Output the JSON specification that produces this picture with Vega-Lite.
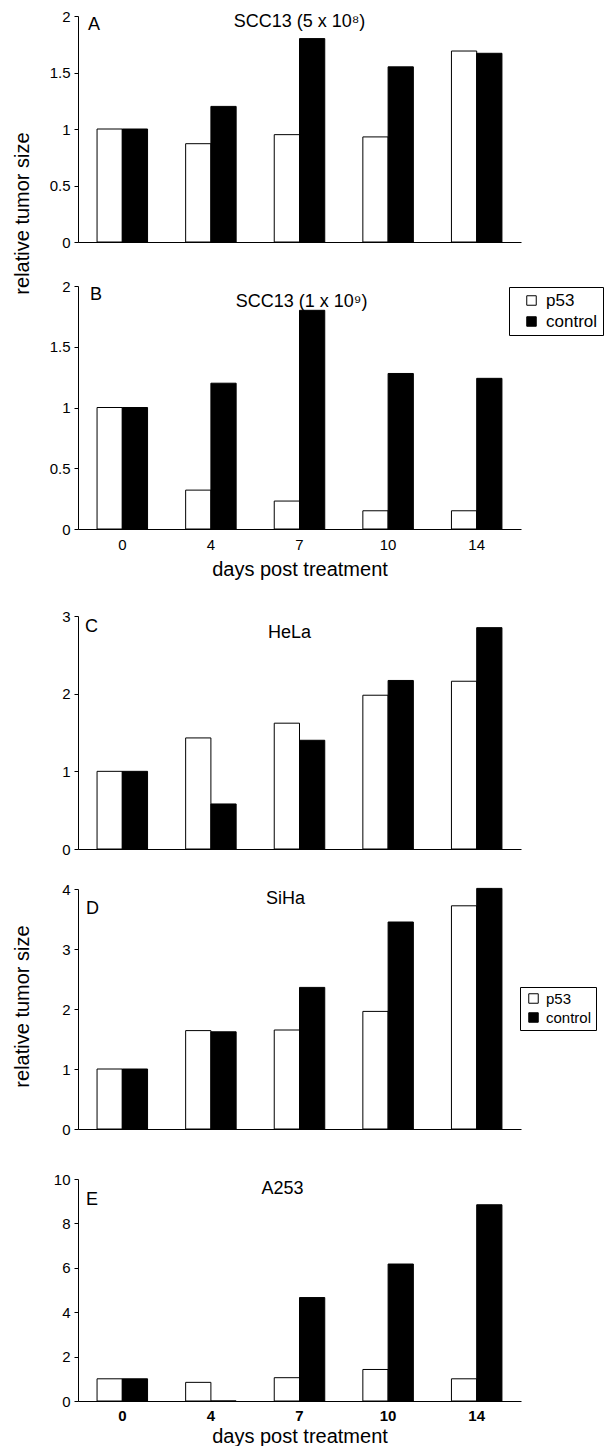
{
  "$schema": "https://vega.github.io/schema/vega-lite/v6.json",
  "padding": {"left": 12, "top": 9, "right": 0, "bottom": 0},
  "datasets": {
    "tumor": [
      {"panel": "A", "day": 0, "group": "p53", "value": 1.0},
      {"panel": "A", "day": 0, "group": "control", "value": 1.0},
      {"panel": "A", "day": 4, "group": "p53", "value": 0.87},
      {"panel": "A", "day": 4, "group": "control", "value": 1.2},
      {"panel": "A", "day": 7, "group": "p53", "value": 0.95},
      {"panel": "A", "day": 7, "group": "control", "value": 1.8},
      {"panel": "A", "day": 10, "group": "p53", "value": 0.93},
      {"panel": "A", "day": 10, "group": "control", "value": 1.55},
      {"panel": "A", "day": 14, "group": "p53", "value": 1.69},
      {"panel": "A", "day": 14, "group": "control", "value": 1.67},
      {"panel": "B", "day": 0, "group": "p53", "value": 1.0},
      {"panel": "B", "day": 0, "group": "control", "value": 1.0},
      {"panel": "B", "day": 4, "group": "p53", "value": 0.32},
      {"panel": "B", "day": 4, "group": "control", "value": 1.2},
      {"panel": "B", "day": 7, "group": "p53", "value": 0.23},
      {"panel": "B", "day": 7, "group": "control", "value": 1.8},
      {"panel": "B", "day": 10, "group": "p53", "value": 0.15},
      {"panel": "B", "day": 10, "group": "control", "value": 1.28},
      {"panel": "B", "day": 14, "group": "p53", "value": 0.15},
      {"panel": "B", "day": 14, "group": "control", "value": 1.24},
      {"panel": "C", "day": 0, "group": "p53", "value": 1.0},
      {"panel": "C", "day": 0, "group": "control", "value": 1.0},
      {"panel": "C", "day": 4, "group": "p53", "value": 1.43},
      {"panel": "C", "day": 4, "group": "control", "value": 0.58},
      {"panel": "C", "day": 7, "group": "p53", "value": 1.62},
      {"panel": "C", "day": 7, "group": "control", "value": 1.4},
      {"panel": "C", "day": 10, "group": "p53", "value": 1.98},
      {"panel": "C", "day": 10, "group": "control", "value": 2.17},
      {"panel": "C", "day": 14, "group": "p53", "value": 2.16},
      {"panel": "C", "day": 14, "group": "control", "value": 2.85},
      {"panel": "D", "day": 0, "group": "p53", "value": 1.0},
      {"panel": "D", "day": 0, "group": "control", "value": 1.0},
      {"panel": "D", "day": 4, "group": "p53", "value": 1.64},
      {"panel": "D", "day": 4, "group": "control", "value": 1.62},
      {"panel": "D", "day": 7, "group": "p53", "value": 1.65},
      {"panel": "D", "day": 7, "group": "control", "value": 2.36},
      {"panel": "D", "day": 10, "group": "p53", "value": 1.96},
      {"panel": "D", "day": 10, "group": "control", "value": 3.45},
      {"panel": "D", "day": 14, "group": "p53", "value": 3.72},
      {"panel": "D", "day": 14, "group": "control", "value": 4.01},
      {"panel": "E", "day": 0, "group": "p53", "value": 1.0},
      {"panel": "E", "day": 0, "group": "control", "value": 1.0},
      {"panel": "E", "day": 4, "group": "p53", "value": 0.84},
      {"panel": "E", "day": 4, "group": "control", "value": 0},
      {"panel": "E", "day": 7, "group": "p53", "value": 1.05},
      {"panel": "E", "day": 7, "group": "control", "value": 4.66},
      {"panel": "E", "day": 10, "group": "p53", "value": 1.42},
      {"panel": "E", "day": 10, "group": "control", "value": 6.17},
      {"panel": "E", "day": 14, "group": "p53", "value": 1.0},
      {"panel": "E", "day": 14, "group": "control", "value": 8.84}
    ]
  },
  "spacing": 30,
  "resolve": {"scale": {"fill": "independent"}, "legend": {"fill": "independent"}},
  "vconcat": [
    {
      "spacing": 44,
      "bounds": "flush",
      "resolve": {"scale": {"fill": "independent"}, "legend": {"fill": "independent"}},
      "vconcat": [
        {
          "width": 443, "height": 226,
          "layer": [
            {
              "data": {"name": "tumor"},
              "transform": [{"filter": "datum.panel === 'A'"}],
              "mark": {"type": "bar", "stroke": "black", "strokeWidth": 1},
              "encoding": {
                "x": {"field": "day", "type": "ordinal", "scale": {"domain": [0, 4, 7, 10, 14], "paddingInner": 0.43, "paddingOuter": 0.215}, "axis": {"title": null, "labels": false, "ticks": false}},
                "xOffset": {"field": "group", "type": "nominal", "scale": {"domain": ["p53", "control"], "paddingInner": 0, "paddingOuter": 0}},
                "y": {"field": "value", "type": "quantitative", "scale": {"domain": [0, 2], "nice": false}, "axis": {"values": [0, 0.5, 1, 1.5, 2], "format": "~f", "title": "relative tumor size", "titleY": 197}},
                "fill": {"field": "group", "type": "nominal", "scale": {"domain": ["p53", "control"], "range": ["white", "black"]}, "legend": null}
              }
            },
            {
              "data": {"values": [{}]},
              "mark": {"type": "text", "align": "left", "baseline": "middle", "fontSize": 18, "dx": -9, "text": "A", "color": "black"},
              "encoding": {"x": {"datum": 0, "type": "ordinal", "bandPosition": 0}, "y": {"datum": 1.92, "type": "quantitative"}}
            },
            {
              "data": {"values": [{}]},
              "mark": {"type": "text", "align": "center", "baseline": "middle", "fontSize": 18, "dx": 0, "text": "SCC13 (5 x 10⁸)", "color": "black"},
              "encoding": {"x": {"datum": 7, "type": "ordinal"}, "y": {"datum": 1.951, "type": "quantitative"}}
            }
          ]
        },
        {
          "width": 443, "height": 243,
          "layer": [
            {
              "data": {"name": "tumor"},
              "transform": [{"filter": "datum.panel === 'B'"}],
              "mark": {"type": "bar", "stroke": "black", "strokeWidth": 1},
              "encoding": {
                "x": {"field": "day", "type": "ordinal", "scale": {"domain": [0, 4, 7, 10, 14], "paddingInner": 0.43, "paddingOuter": 0.215}, "axis": {"title": "days post treatment", "labelPadding": 8, "titlePadding": 7}},
                "xOffset": {"field": "group", "type": "nominal", "scale": {"domain": ["p53", "control"], "paddingInner": 0, "paddingOuter": 0}},
                "y": {"field": "value", "type": "quantitative", "scale": {"domain": [0, 2], "nice": false}, "axis": {"values": [0, 0.5, 1, 1.5, 2], "format": "~f", "title": " "}},
                "fill": {"field": "group", "type": "nominal", "scale": {"domain": ["p53", "control"], "range": ["white", "black"]},
                  "legend": {"orient": "none", "legendX": 431, "legendY": 1, "title": null, "labelFontSize": 17, "padding": 5, "rowPadding": 3, "symbolOffset": 9, "labelOffset": 6}}
              }
            },
            {
              "data": {"values": [{}]},
              "mark": {"type": "text", "align": "left", "baseline": "middle", "fontSize": 18, "dx": -7, "text": "B", "color": "black"},
              "encoding": {"x": {"datum": 0, "type": "ordinal", "bandPosition": 0}, "y": {"datum": 1.926, "type": "quantitative"}}
            },
            {
              "data": {"values": [{}]},
              "mark": {"type": "text", "align": "center", "baseline": "middle", "fontSize": 18, "dx": 2, "text": "SCC13 (1 x 10⁹)", "color": "black"},
              "encoding": {"x": {"datum": 7, "type": "ordinal"}, "y": {"datum": 1.868, "type": "quantitative"}}
            }
          ]
        }
      ]
    },
    {
      "spacing": 25,
      "resolve": {"scale": {"fill": "independent"}, "legend": {"fill": "independent"}},
      "vconcat": [
        {
          "width": 443, "height": 233,
          "layer": [
            {
              "data": {"name": "tumor"},
              "transform": [{"filter": "datum.panel === 'C'"}],
              "mark": {"type": "bar", "stroke": "black", "strokeWidth": 1},
              "encoding": {
                "x": {"field": "day", "type": "ordinal", "scale": {"domain": [0, 4, 7, 10, 14], "paddingInner": 0.43, "paddingOuter": 0.215}, "axis": {"title": null, "labels": false, "ticks": false}},
                "xOffset": {"field": "group", "type": "nominal", "scale": {"domain": ["p53", "control"], "paddingInner": 0, "paddingOuter": 0}},
                "y": {"field": "value", "type": "quantitative", "scale": {"domain": [0, 3], "nice": false}, "axis": {"values": [0, 1, 2, 3], "format": "~f", "title": " "}},
                "fill": {"field": "group", "type": "nominal", "scale": {"domain": ["p53", "control"], "range": ["white", "black"]}, "legend": null}
              }
            },
            {
              "data": {"values": [{}]},
              "mark": {"type": "text", "align": "left", "baseline": "middle", "fontSize": 18, "dx": -12, "text": "C", "color": "black"},
              "encoding": {"x": {"datum": 0, "type": "ordinal", "bandPosition": 0}, "y": {"datum": 2.852, "type": "quantitative"}}
            },
            {
              "data": {"values": [{}]},
              "mark": {"type": "text", "align": "center", "baseline": "middle", "fontSize": 18, "dx": -10, "text": "HeLa", "color": "black"},
              "encoding": {"x": {"datum": 7, "type": "ordinal"}, "y": {"datum": 2.775, "type": "quantitative"}}
            }
          ]
        },
        {
          "spacing": 35,
          "resolve": {"scale": {"fill": "independent"}, "legend": {"fill": "independent"}},
          "vconcat": [
            {
              "width": 443, "height": 240,
              "layer": [
                {
                  "data": {"name": "tumor"},
                  "transform": [{"filter": "datum.panel === 'D'"}],
                  "mark": {"type": "bar", "stroke": "black", "strokeWidth": 1},
                  "encoding": {
                    "x": {"field": "day", "type": "ordinal", "scale": {"domain": [0, 4, 7, 10, 14], "paddingInner": 0.43, "paddingOuter": 0.215}, "axis": {"title": null, "labels": false, "ticks": false}},
                    "xOffset": {"field": "group", "type": "nominal", "scale": {"domain": ["p53", "control"], "paddingInner": 0, "paddingOuter": 0}},
                    "y": {"field": "value", "type": "quantitative", "scale": {"domain": [0, 4], "nice": false}, "axis": {"values": [0, 1, 2, 3, 4], "format": "~f", "title": "relative tumor size", "titleY": 117}},
                    "fill": {"field": "group", "type": "nominal", "scale": {"domain": ["p53", "control"], "range": ["white", "black"]},
                      "legend": {"orient": "none", "legendX": 442, "legendY": 98, "title": null, "labelFontSize": 15, "padding": 4, "rowPadding": 3, "symbolOffset": 2, "labelOffset": 5}}
                  }
                },
                {
                  "data": {"values": [{}]},
                  "mark": {"type": "text", "align": "left", "baseline": "middle", "fontSize": 18, "dx": -11, "text": "D", "color": "black"},
                  "encoding": {"x": {"datum": 0, "type": "ordinal", "bandPosition": 0}, "y": {"datum": 3.667, "type": "quantitative"}}
                },
                {
                  "data": {"values": [{}]},
                  "mark": {"type": "text", "align": "center", "baseline": "middle", "fontSize": 18, "dx": -14, "text": "SiHa", "color": "black"},
                  "encoding": {"x": {"datum": 7, "type": "ordinal"}, "y": {"datum": 3.833, "type": "quantitative"}}
                }
              ]
            },
            {
              "width": 443, "height": 222,
              "layer": [
                {
                  "data": {"name": "tumor"},
                  "transform": [{"filter": "datum.panel === 'E'"}],
                  "mark": {"type": "bar", "stroke": "black", "strokeWidth": 1},
                  "encoding": {
                    "x": {"field": "day", "type": "ordinal", "scale": {"domain": [0, 4, 7, 10, 14], "paddingInner": 0.43, "paddingOuter": 0.215}, "axis": {"title": "days post treatment", "labelFontWeight": "bold", "labelPadding": 7, "titlePadding": 3}},
                    "xOffset": {"field": "group", "type": "nominal", "scale": {"domain": ["p53", "control"], "paddingInner": 0, "paddingOuter": 0}},
                    "y": {"field": "value", "type": "quantitative", "scale": {"domain": [0, 10], "nice": false}, "axis": {"values": [0, 2, 4, 6, 8, 10], "format": "~f", "title": " "}},
                    "fill": {"field": "group", "type": "nominal", "scale": {"domain": ["p53", "control"], "range": ["white", "black"]}, "legend": null}
                  }
                },
                {
                  "data": {"values": [{}]},
                  "mark": {"type": "text", "align": "left", "baseline": "middle", "fontSize": 18, "dx": -11, "text": "E", "color": "black"},
                  "encoding": {"x": {"datum": 0, "type": "ordinal", "bandPosition": 0}, "y": {"datum": 9.054, "type": "quantitative"}}
                },
                {
                  "data": {"values": [{}]},
                  "mark": {"type": "text", "align": "center", "baseline": "middle", "fontSize": 18, "dx": -17, "text": "A253", "color": "black"},
                  "encoding": {"x": {"datum": 7, "type": "ordinal"}, "y": {"datum": 9.55, "type": "quantitative"}}
                }
              ]
            }
          ]
        }
      ]
    }
  ],
  "config": {
    "font": "Liberation Sans",
    "background": "white",
    "view": {"stroke": null},
    "axis": {"domainColor": "black", "domainWidth": 1, "tickColor": "black", "labelColor": "black", "titleColor": "black", "grid": false, "titleFontWeight": "normal"},
    "axisX": {"ticks": false, "tickSize": 0, "labelFontSize": 15, "labelAngle": 0, "titleFontSize": 20},
    "axisY": {"tickSize": 4, "labelPadding": 4, "labelFontSize": 15, "minExtent": 29, "maxExtent": 29, "titleFontSize": 20, "titlePadding": 17},
    "legend": {"symbolType": "square", "symbolSize": 90, "symbolStrokeColor": "black", "symbolStrokeWidth": 1, "strokeColor": "black", "strokeWidth": 1, "fillColor": "white", "labelColor": "black", "cornerRadius": 0}
  }
}
